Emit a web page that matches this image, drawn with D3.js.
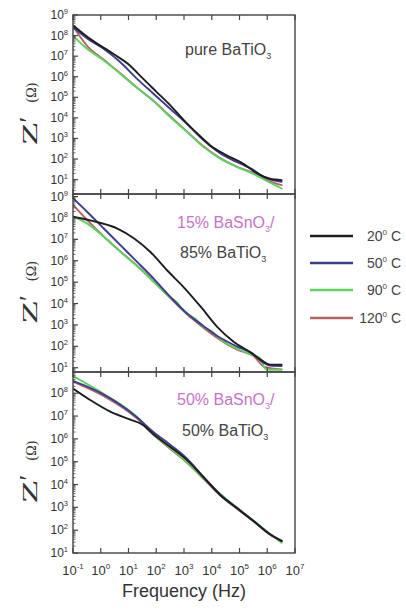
<!DOCTYPE html>
<html><head><meta charset="utf-8">
<script src="https://cdn.jsdelivr.net/npm/d3@7"></script>
<style>body{margin:0;background:#fff;} svg{display:block}</style>
</head><body>
<svg id="c" width="406" height="614"></svg>
<script>
// ---------- data (frequency in Hz, Z' in ohm) ----------
const seriesNames = ["20", "50", "90", "120"];
const xTickExp = [-1, 0, 1, 2, 3, 4, 5, 6, 7];
const yTickExpTop = [1, 2, 3, 4, 5, 6, 7, 8, 9];
const yTickExpMid = [1, 2, 3, 4, 5, 6, 7, 8, 9];
const yTickExpBot = [1, 2, 3, 4, 5, 6, 7, 8];

// pure BaTiO3
const pure20 = [[0.1,3.2e8],[0.4,7.1e7],[2.8,1.3e7],[11,3.6e6],[32,8.5e5],[100,1.9e5],[316,4.2e4],[1000,7.6e3],[3200,1.6e3],[8900,460],[3.2e4,160],[1.26e5,63],[5e5,18],[1.26e6,11],[3.3e6,9.5]];
const pure50 = [[0.1,2.6e8],[0.4,5.9e7],[1.26,2.3e7],[5,5.2e6],[20,8.1e5],[79,1.5e5],[316,2.8e4],[1260,5.2e3],[5000,830],[2e4,190],[7.9e4,72],[3.2e5,29],[7.2e5,14],[3.3e6,7.8]];
const pure90 = [[0.1,1e8],[0.32,2.3e7],[1.26,6.3e6],[5,1.4e6],[20,2.9e5],[79,6.5e4],[316,1.1e4],[1260,2.1e3],[5000,390],[2e4,105],[7.9e4,42],[3.2e5,19],[1.26e6,7.1],[3.3e6,3.7]];
const pure120 = [[0.1,2.8e8],[0.32,3.2e7],[1.26,6.8e6],[5,1.5e6],[20,3e5],[79,6.8e4],[316,1.2e4],[1260,2.2e3],[5000,420],[2e4,112],[7.9e4,43],[3.2e5,21],[1.26e6,8.3],[3.3e6,5.4]];

// 15% BaSnO3 / 85% BaTiO3
const m15_20 = [[0.1,1.15e8],[0.79,6.3e7],[4,3.2e7],[16,1.1e7],[63,2.5e6],[250,3.5e5],[1000,5.6e4],[4000,7.1e3],[1.6e4,790],[6.3e4,160],[2.5e5,52],[6.3e5,22],[1.26e6,14],[3.3e6,14]];
const m15_50 = [[0.1,8.3e8],[0.32,1.95e8],[1.26,3.3e7],[5,5.5e6],[20,9.1e5],[79,1.5e5],[316,2.1e4],[1260,3.5e3],[5000,890],[2e4,250],[7.9e4,100],[3.2e5,42],[7.2e5,17],[1.26e6,12.6],[3.3e6,12]];
const m15_90 = [[0.1,1.15e8],[0.32,5.6e7],[1.26,1.35e7],[5,2.7e6],[20,5.8e5],[79,1.05e5],[316,1.95e4],[562,1.12e4],[794,6.3e3],[1260,3.5e3],[2500,2e3],[5000,830],[1e4,500],[2e4,220],[7.9e4,79],[3.2e5,38],[5.6e5,28],[7.9e5,10],[1e6,8],[3.3e6,8]];
const m15_120 = [[0.1,4.1e8],[0.32,8.1e7],[1.26,1.4e7],[5,2.8e6],[20,6e5],[79,1.1e5],[316,1.86e4],[1260,3.2e3],[5000,740],[2e4,200],[7.9e4,71],[3.2e5,35],[7.9e5,11],[3.3e6,8.3]];

// 50% BaSnO3 / 50% BaTiO3
const m50_20 = [[0.1,1.6e8],[0.4,5.2e7],[2.1,1.6e7],[11,7.1e6],[32,4.2e6],[79,1.6e6],[316,4.5e5],[1260,1.2e5],[5000,2.1e4],[2e4,3.5e3],[7.9e4,930],[3.2e5,250],[1.26e6,66],[3.3e6,33]];
const m50_50 = [[0.1,3.5e8],[1.26,8.9e7],[20,8.9e6],[79,2e6],[316,5.6e5],[1260,1.4e5],[5000,2.2e4],[2e4,3.7e3],[7.9e4,980],[3.2e5,250],[1.26e6,66],[3.3e6,35]];
const m50_90 = [[0.1,5.6e8],[1.26,9.5e7],[20,9.3e6],[79,1.6e6],[316,4e5],[1260,1e5],[5000,1.9e4],[2e4,4e3],[7.9e4,1e3],[3.2e5,263],[1.26e6,69],[3.3e6,28]];
const m50_120 = [[0.1,3.2e8],[1.26,7.6e7],[20,7.9e6],[79,1.5e6],[316,3.7e5],[1260,9.3e4],[5000,1.8e4],[2e4,3.4e3],[7.9e4,890],[3.2e5,240],[1.26e6,63],[3.3e6,32]];

// ---------- layout / style ----------
const colors = ["#1e1e1e", "#3d3d8f", "#5fd35f", "#b56262"];
const drawOrder = [3, 2, 1, 0];
const X0 = 73, X1 = 295;
const tickFont = "Liberation Sans, Arial, sans-serif";

const panels = [
  { top: 15, bottom: 194, domain: [2, 1e9], ticks: yTickExpTop,
    series: [pure20, pure50, pure90, pure120],
    notes: [ { x: 185, y: 55, color: "#444", parts: [["pure BaTiO"], ["3", true]] } ] },
  { top: 194, bottom: 372, domain: [6.31, 1.318e9], ticks: yTickExpMid,
    series: [m15_20, m15_50, m15_90, m15_120],
    notes: [ { x: 177, y: 228, color: "#c873c8", parts: [["15% BaSnO"], ["3", true], ["/"]] },
             { x: 180, y: 258, color: "#444", parts: [["85% BaTiO"], ["3", true]] } ] },
  { top: 372, bottom: 553, domain: [10, 8.51e8], ticks: yTickExpBot,
    series: [m50_20, m50_50, m50_90, m50_120],
    notes: [ { x: 177, y: 405, color: "#c873c8", parts: [["50% BaSnO"], ["3", true], ["/"]] },
             { x: 182, y: 436, color: "#444", parts: [["50% BaTiO"], ["3", true]] } ] }
];

const svg = d3.select("#c");
const x = d3.scaleLog().domain([0.1, 1e7]).range([X0, X1]);

panels.forEach((p, pi) => {
  const y = d3.scaleLog().domain(p.domain).range([p.bottom, p.top]);
  const g = svg.append("g");
  const clipId = "clip" + pi;
  svg.append("clipPath").attr("id", clipId).append("rect")
    .attr("x", X0).attr("y", p.top).attr("width", X1 - X0).attr("height", p.bottom - p.top);

  // curves
  const line = d3.line().x(d => x(d[0])).y(d => y(d[1])).curve(d3.curveMonotoneX);
  const cg = g.append("g").attr("clip-path", `url(#${clipId})`);
  drawOrder.forEach(si => {
    cg.append("path").datum(p.series[si])
      .attr("d", line).attr("fill", "none")
      .attr("stroke", colors[si]).attr("stroke-width", 1.9)
      .attr("stroke-linejoin", "round").attr("stroke-linecap", "round");
  });

  // frame
  g.append("rect").attr("x", X0).attr("y", p.top).attr("width", X1 - X0).attr("height", p.bottom - p.top)
    .attr("fill", "none").attr("stroke", "#444").attr("stroke-width", 1.4);

  // x ticks (inward top & bottom)
  xTickExp.forEach(e => {
    const xv = x(Math.pow(10, e));
    g.append("line").attr("x1", xv).attr("x2", xv).attr("y1", p.top).attr("y2", p.top + 5)
      .attr("stroke", "#444").attr("stroke-width", 1.2);
    g.append("line").attr("x1", xv).attr("x2", xv).attr("y1", p.bottom).attr("y2", p.bottom - 5)
      .attr("stroke", "#444").attr("stroke-width", 1.2);
  });

  // y ticks: major + minor (inward on left)
  const lo = Math.floor(Math.log10(p.domain[0])), hi = Math.ceil(Math.log10(p.domain[1]));
  for (let n = lo; n <= hi; n++) {
    for (let k = 1; k <= 9; k++) {
      const v = k * Math.pow(10, n);
      if (v < p.domain[0] || v > p.domain[1]) continue;
      const yv = y(v);
      g.append("line").attr("x1", X0).attr("x2", X0 + (k === 1 ? 5 : 2.5))
        .attr("y1", yv).attr("y2", yv).attr("stroke", "#444").attr("stroke-width", k === 1 ? 1.2 : 0.8);
    }
  }
  // y tick labels
  p.ticks.forEach(e => {
    const yv = y(Math.pow(10, e));
    const t = g.append("text").attr("x", 68).attr("y", yv + 4)
      .attr("text-anchor", "end").attr("font-family", tickFont).attr("fill", "#333")
      .attr("font-size", 12);
    t.append("tspan").text("10");
    t.append("tspan").attr("font-size", 7.5).attr("dy", -5).text(e);
  });

  // y axis label
  const cy = (p.top + p.bottom) / 2 + 8;
  const lg = g.append("g").attr("transform", `translate(37,${cy}) rotate(-90)`);
  lg.append("text").attr("x", -33).attr("y", 0).attr("font-family", "Liberation Serif, Times New Roman, serif")
    .attr("font-size", 22).attr("fill", "#333").attr("textLength", 24).attr("lengthAdjust", "spacingAndGlyphs").text("Z");
  lg.append("text").attr("x", -10).attr("y", 0).attr("font-family", "Liberation Serif, Times New Roman, serif")
    .attr("font-size", 26).attr("fill", "#333").text("′");
  lg.append("text").attr("x", 10).attr("y", -1).attr("font-family", "Liberation Serif, Times New Roman, serif")
    .attr("font-size", 14).attr("fill", "#333").text("(Ω)");

  // annotations
  p.notes.forEach(n => {
    const t = g.append("text").attr("x", n.x).attr("y", n.y).attr("font-family", tickFont)
      .attr("font-size", 16).attr("fill", n.color);
    let shifted = false;
    n.parts.forEach(pt => {
      const ts = t.append("tspan").text(pt[0]);
      if (pt[1]) { ts.attr("font-size", 9).attr("dy", 4); shifted = true; }
      else if (shifted) { ts.attr("dy", -4); shifted = false; }
    });
  });
});

// x tick labels (bottom panel only)
const lastBottom = panels[2].bottom;
xTickExp.forEach(e => {
  const t = svg.append("text").attr("x", x(Math.pow(10, e))).attr("y", lastBottom + 22)
    .attr("text-anchor", "middle").attr("font-family", tickFont).attr("fill", "#333").attr("font-size", 13);
  t.append("tspan").text("10");
  t.append("tspan").attr("font-size", 8).attr("dy", -6).text(e);
});
svg.append("text").attr("x", (X0 + X1) / 2).attr("y", 597).attr("text-anchor", "middle")
  .attr("font-family", tickFont).attr("font-size", 18).attr("fill", "#333").text("Frequency (Hz)");

// legend
const legY = [236, 263, 290, 318];
seriesNames.forEach((nm, i) => {
  const lgp = svg.append("g");
  lgp.append("line").attr("x1", 310).attr("x2", 353).attr("y1", legY[i]).attr("y2", legY[i])
    .attr("stroke", colors[i]).attr("stroke-width", 2.4);
  const t = lgp.append("text").attr("x", 401).attr("y", legY[i] + 5).attr("text-anchor", "end")
    .attr("font-family", tickFont).attr("font-size", 14).attr("fill", "#444");
  t.append("tspan").text(nm);
  t.append("tspan").attr("font-size", 8).attr("dy", -6).text("0");
  t.append("tspan").attr("dy", 6).text(" C");
});
</script>
</body></html>
